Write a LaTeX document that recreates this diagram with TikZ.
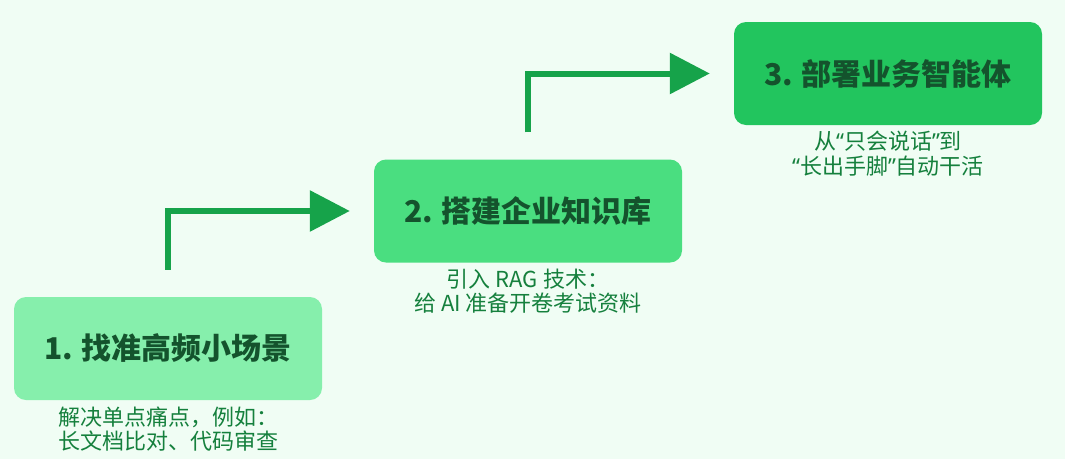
\documentclass[tikz,border=0pt]{standalone}
\usepackage{fontspec}
\setmainfont{Noto Sans CJK SC}
\newfontfamily\qf{Noto Sans}
\usetikzlibrary{arrows.meta,calc}
\definecolor{bg}{HTML}{F0FDF4}
\definecolor{c1}{HTML}{86EFAC}
\definecolor{c2}{HTML}{4ADE80}
\definecolor{c3}{HTML}{22C55E}
\definecolor{arr}{HTML}{16A34A}
\definecolor{ttl}{HTML}{14532D}
\definecolor{sub}{HTML}{15803D}
\tikzset{
  box/.style={rounded corners=12pt, minimum width=308pt, minimum height=103pt, inner sep=0pt,
    font=\fontsize{30}{36}\selectfont\bfseries, text=ttl},
  subtxt/.style={anchor=north, align=center, inner sep=0pt, text=sub, font=\fontsize{22}{24.5}\selectfont},
  conn/.style={draw=arr, line width=6pt, -{Triangle[length=40pt,width=40pt]}}
}
\begin{document}
\begin{tikzpicture}[x=1pt,y=-1pt]
\fill[bg] (0,0) rectangle (1065,459);
\useasboundingbox (0,0) rectangle (1065,459);
\node[box, fill=c1] (n1) at (168,348.5) {1. 找准高频小场景};
\node[box, fill=c2] (n2) at (528,211) {2. 搭建企业知识库};
\node[box, fill=c3] (n3) at (888,73.5) {3. 部署业务智能体};
\node[subtxt] (t1) at ($(n1.south)+(0,6)$) {解决单点痛点，例如：\\长文档比对、代码审查};
\node[subtxt] (t2) at ($(n2.south)+(0,6)$) {引入 RAG 技术：\\给 AI 准备开卷考试资料};
\node[subtxt] (t3) at ($(n3.south)+(0,6)$) {从{\qf“}只会说话{\qf”}到\\{\qf“}长出手脚{\qf”}自动干活};
\coordinate (s1) at ($(n1.north)+(0,-27)$);
\coordinate (e1) at ($(n2.west)+(-24,0)$);
\coordinate (s2) at ($(n2.north)+(0,-27)$);
\coordinate (e2) at ($(n3.west)+(-24,0)$);
\draw[conn] (s1) |- (e1);
\draw[conn] (s2) |- (e2);
\end{tikzpicture}
\end{document}
